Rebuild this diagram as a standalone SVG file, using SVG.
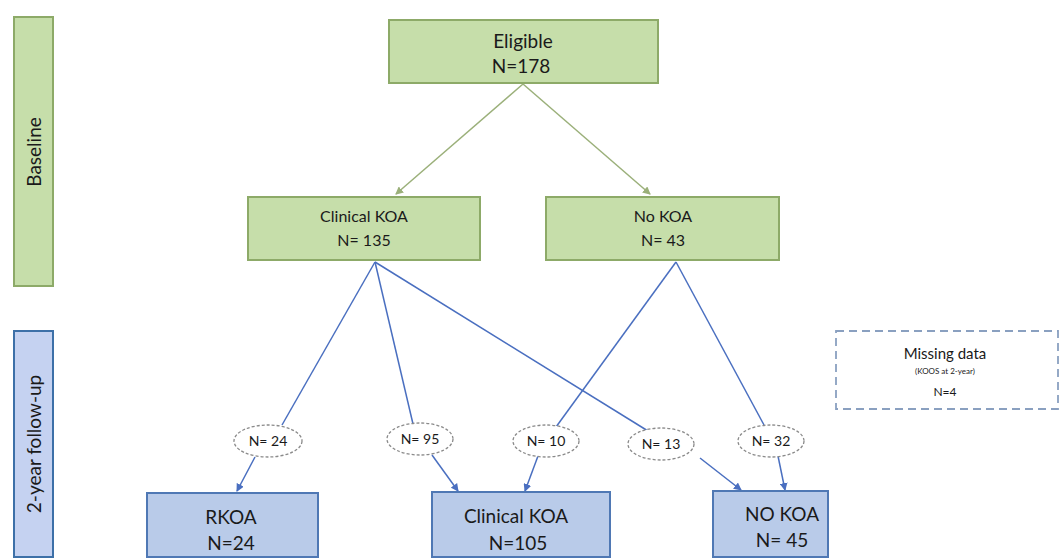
<svg xmlns="http://www.w3.org/2000/svg" width="1060" height="559" viewBox="0 0 1060 559">
<style>
text{font-family:Lato,"Open Sans","Liberation Sans",sans-serif;fill:#1a1a1a;text-anchor:middle}
.g{fill:#c6deaa;stroke:#8daa68;stroke-width:2}
.b{fill:#b9cbe9;stroke:#4f78b4;stroke-width:2}
.t{font-size:16px}
.L{font-size:19px}
.s{font-size:19px}
.e{fill:#fff;stroke:#8a8a8a;stroke-width:1.3;stroke-dasharray:3 2}
.et{font-size:14px}
.gl{stroke:#9bb07a;stroke-width:1.5;fill:none}
.bl{stroke:#4a6fc0;stroke-width:1.5;fill:none}
</style>
<defs>
<marker id="ag" markerWidth="8" markerHeight="8" refX="7" refY="4" orient="auto" markerUnits="userSpaceOnUse"><path d="M0,0 L8,4 L0,8 Z" fill="#9bb07a"/></marker>
<marker id="ab" markerWidth="8" markerHeight="8" refX="7" refY="4" orient="auto" markerUnits="userSpaceOnUse"><path d="M0,0 L8,4 L0,8 Z" fill="#4a6fc0"/></marker>
</defs>
<rect width="1060" height="559" fill="#fff"/>
<g id="baseline-bar"><rect x="14" y="17" width="39" height="269" class="g"/><text class="s" transform="translate(41,152) rotate(-90)">Baseline</text></g>
<g id="followup-bar"><rect x="14" y="331" width="39" height="226" fill="#c5d2f1" stroke="#3d70a8" stroke-width="2"/><text class="s" transform="translate(41,444) rotate(-90)">2-year follow-up</text></g>
<g id="connectors">
<line x1="523" y1="84" x2="396" y2="194" class="gl" marker-end="url(#ag)"/>
<line x1="523" y1="84" x2="650" y2="194" class="gl" marker-end="url(#ag)"/>
<line x1="375" y1="262" x2="282" y2="425" class="bl"/>
<line x1="375" y1="262" x2="413" y2="424" class="bl"/>
<line x1="375" y1="262" x2="648" y2="431" class="bl"/>
<line x1="676" y1="262" x2="556" y2="427" class="bl"/>
<line x1="676" y1="262" x2="764" y2="425" class="bl"/>
<line x1="255" y1="457" x2="237" y2="491" class="bl" marker-end="url(#ab)"/>
<line x1="432" y1="455" x2="458" y2="491" class="bl" marker-end="url(#ab)"/>
<line x1="538" y1="456" x2="525" y2="491" class="bl" marker-end="url(#ab)"/>
<line x1="700" y1="458" x2="741" y2="490" class="bl" marker-end="url(#ab)"/>
<line x1="778" y1="456" x2="785" y2="490" class="bl" marker-end="url(#ab)"/>
</g>
<g id="eligible"><rect x="389" y="20" width="269" height="63" class="g"/><text class="L" x="523" y="48">Eligible</text><text class="L" x="521" y="73">N=178</text></g>
<g id="clinical-koa"><rect x="248" y="197" width="232" height="63" class="g"/><text class="t" x="364" y="222">Clinical KOA</text><text class="t" x="364" y="246">N= 135</text></g>
<g id="no-koa"><rect x="546" y="197" width="233" height="63" class="g"/><text class="t" x="663" y="222">No KOA</text><text class="t" x="663" y="246">N= 43</text></g>
<g id="n24"><ellipse cx="268" cy="441" rx="34" ry="16" class="e"/><text class="et" x="268" y="446">N= 24</text></g>
<g id="n95"><ellipse cx="420" cy="439" rx="33" ry="16" class="e"/><text class="et" x="420" y="444">N= 95</text></g>
<g id="n10"><ellipse cx="546" cy="441" rx="33" ry="16" class="e"/><text class="et" x="546" y="446">N= 10</text></g>
<g id="n13"><ellipse cx="661" cy="444" rx="33" ry="16" class="e"/><text class="et" x="661" y="449">N= 13</text></g>
<g id="n32"><ellipse cx="771" cy="441" rx="33" ry="16" class="e"/><text class="et" x="771" y="446">N= 32</text></g>
<g id="missing"><rect x="836" y="331" width="222" height="78" fill="#fff" stroke="#8aa0c0" stroke-width="1.8" stroke-dasharray="8 5"/><text x="945" y="359" font-size="15px">Missing data</text><text x="945" y="374" font-size="8px">(KOOS at 2-year)</text><text x="945" y="396" font-size="12px">N=4</text></g>
<g id="rkoa"><rect x="147" y="493" width="171" height="64" class="b"/><text class="L" x="231" y="524">RKOA</text><text class="L" x="231" y="550">N=24</text></g>
<g id="clinical-koa-2"><rect x="432" y="492" width="178" height="65" class="b"/><text class="L" x="516" y="523">Clinical KOA</text><text class="L" x="518" y="550">N=105</text></g>
<g id="no-koa-2"><rect x="713" y="491" width="115" height="66" class="b"/><text class="L" x="782" y="521">NO KOA</text><text class="L" x="782" y="547">N= 45</text></g>
</svg>
